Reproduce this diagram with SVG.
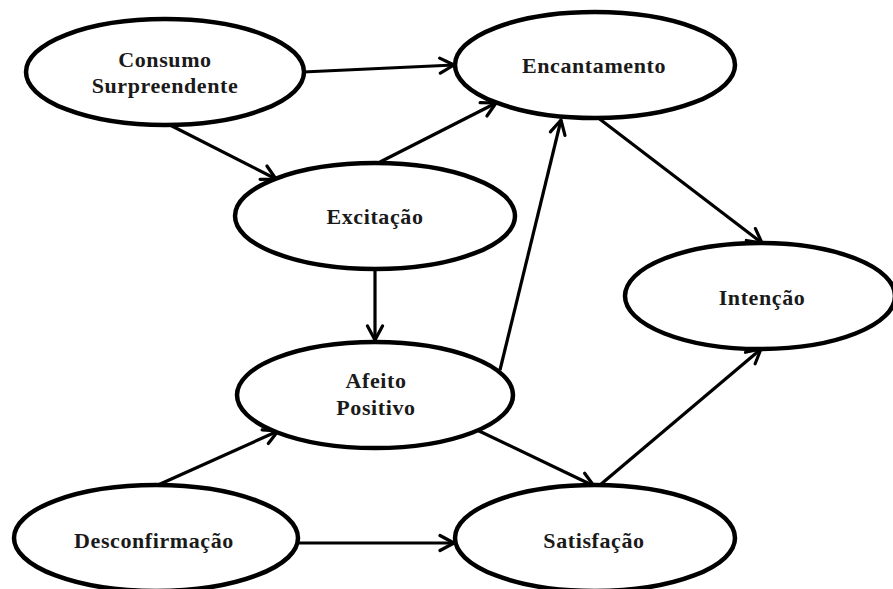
<svg xmlns="http://www.w3.org/2000/svg" width="893" height="589" viewBox="0 0 893 589">
<style>
.node ellipse{fill:#fff;stroke:#000;stroke-width:4.5}
.node text{font-family:"Liberation Serif","Times New Roman",serif;font-weight:bold;font-size:22px;letter-spacing:0.6px;fill:#1a1a1a;text-anchor:middle}
.edges line{stroke:#000;stroke-width:3.2;marker-end:url(#arr)}
</style>
<defs>
<marker id="arr" markerUnits="userSpaceOnUse" viewBox="-18 -10 20 20" refX="0" refY="0" markerWidth="20" markerHeight="20" orient="auto">
<path d="M-14,-7.5 L0,0 L-14,7.5" fill="none" stroke="#000" stroke-width="3.2" stroke-linecap="round" stroke-linejoin="round"/>
</marker>
</defs>
<rect width="893" height="589" fill="#fff"/>
<g class="edges">
<line x1="303" y1="72" x2="454" y2="65"/>
<line x1="168" y1="124" x2="276" y2="179"/>
<line x1="380" y1="162" x2="496" y2="103"/>
<line x1="375" y1="268" x2="375" y2="340"/>
<line x1="500" y1="370" x2="561" y2="120"/>
<line x1="597" y1="117" x2="762" y2="243"/>
<line x1="477" y1="430" x2="594" y2="486"/>
<line x1="158" y1="485" x2="278" y2="431"/>
<line x1="298" y1="543" x2="454" y2="543"/>
<line x1="600" y1="485" x2="761" y2="349"/>
</g>
<g id="consumo" class="node"><ellipse cx="165" cy="72" rx="139" ry="53"/><text x="165" y="67">Consumo</text><text x="165" y="93">Surpreendente</text></g>
<g id="encantamento" class="node"><ellipse cx="595" cy="65" rx="140" ry="53"/><text x="594" y="73">Encantamento</text></g>
<g id="excitacao" class="node"><ellipse cx="375" cy="216" rx="140" ry="53"/><text x="375" y="224">Excitação</text></g>
<g id="intencao" class="node"><ellipse cx="760" cy="296" rx="135" ry="53"/><text x="762" y="305">Intenção</text></g>
<g id="afeito" class="node"><ellipse cx="375" cy="395" rx="138" ry="53"/><text x="376" y="388">Afeito</text><text x="376" y="415">Positivo</text></g>
<g id="desconfirmacao" class="node"><ellipse cx="156" cy="538" rx="142" ry="53"/><text x="154" y="548">Desconfirmação</text></g>
<g id="satisfacao" class="node"><ellipse cx="595" cy="538" rx="140" ry="53"/><text x="594" y="548">Satisfação</text></g>
</svg>
